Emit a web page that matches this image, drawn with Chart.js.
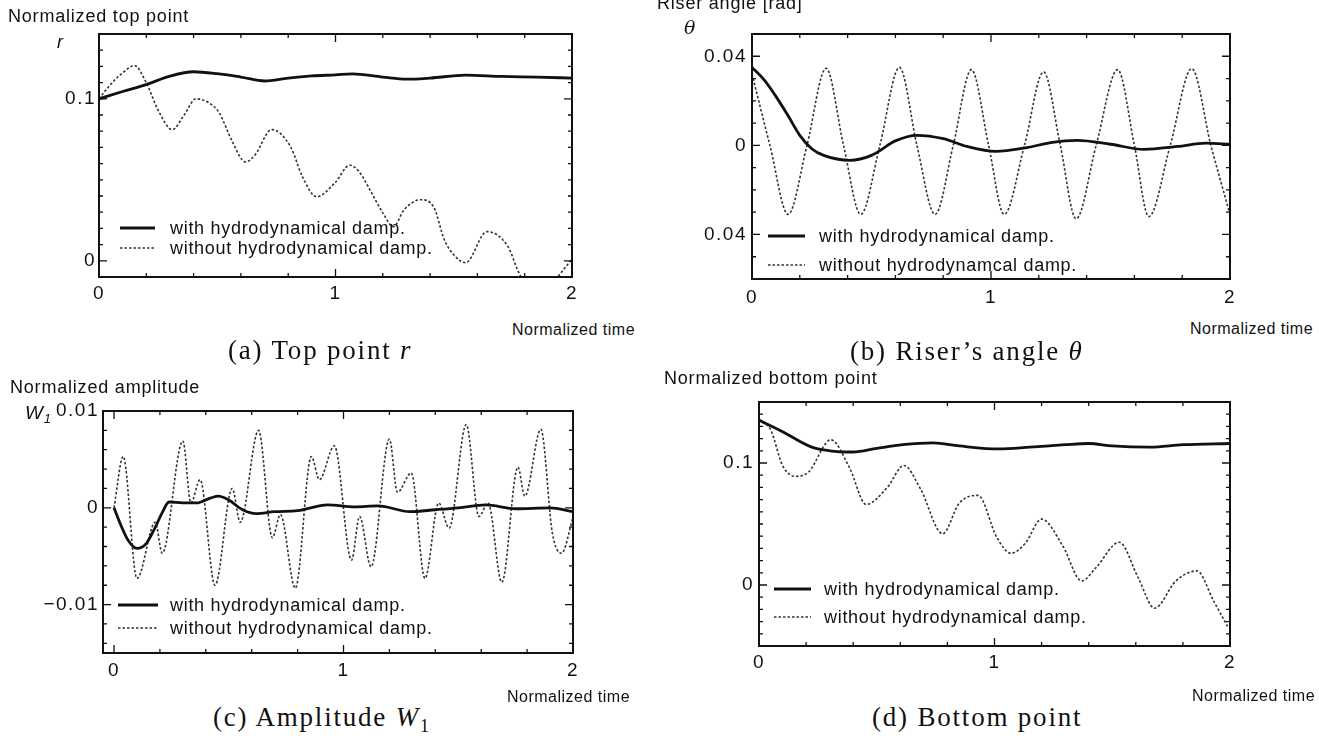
<!DOCTYPE html>
<html>
<head>
<meta charset="utf-8">
<script src="https://cdn.jsdelivr.net/npm/chart.js@4.4.0/dist/chart.umd.min.js"></script>
<style>
  body { margin: 0; background: #fff; }
  #page { position: relative; width: 1319px; height: 736px; overflow: hidden; background: #fff; }
  canvas { position: absolute; }
  .t { position: absolute; white-space: nowrap; line-height: 1; color: #111;
       font-family: 'Liberation Sans', Arial, sans-serif; font-size: 18px; letter-spacing: 0.8px; }
  .nt { font-size: 16px; letter-spacing: 0.5px; }
  .cap { position: absolute; white-space: nowrap; line-height: 1; color: #111;
         font-family: 'Liberation Serif', 'Times New Roman', serif; font-size: 27px; letter-spacing: 1.8px; }
</style>
</head>
<body>
<div id="page">
  <canvas id="ca" width="640" height="320" style="left:0;top:0"></canvas>
  <canvas id="cb" width="620" height="320" style="left:660px;top:0"></canvas>
  <canvas id="cc" width="640" height="330" style="left:0;top:360px"></canvas>
  <canvas id="cd" width="620" height="330" style="left:660px;top:360px"></canvas>

  <div class="t" style="left:8px;top:7px">Normalized top point</div>
  <div class="t" style="left:57px;top:33px;font-style:italic">r</div>
  <div class="t nt" style="left:512px;top:322px">Normalized time</div>
  <div class="cap" style="left:228px;top:337px">(a) Top point <i>r</i></div>

  <div class="t" style="left:657px;top:-6px">Riser angle [rad]</div>
  <div class="t" style="left:684px;top:18px;font-size:19px;font-style:italic;font-family:'DejaVu Serif',serif">θ</div>
  <div class="t nt" style="left:1190px;top:321px">Normalized time</div>
  <div class="cap" style="left:850px;top:338px">(b) Riser’s angle <i>θ</i></div>

  <div class="t" style="left:10px;top:378px">Normalized amplitude</div>
  <div class="t" style="left:25px;top:403px;font-size:19px;font-style:italic">W<span style="position:relative;top:4px;font-size:13px">1</span></div>
  <div class="t nt" style="left:507px;top:689px">Normalized time</div>
  <div class="cap" style="left:213px;top:704px">(c) Amplitude <i>W</i><sub style="font-size:18px">1</sub></div>

  <div class="t" style="left:664px;top:369px">Normalized bottom point</div>
  <div class="t nt" style="left:1192px;top:688px">Normalized time</div>
  <div class="cap" style="left:872px;top:704px">(d) Bottom point</div>
</div>
<script>
// (a) top point r
const tA_with = [0, 0.1, 0.2, 0.3, 0.4, 0.5, 0.6, 0.7, 0.8, 0.9, 1.0, 1.07, 1.2, 1.3, 1.4, 1.55, 1.7, 1.85, 2.0];
const rA_with = [0.100, 0.1045, 0.1088, 0.1140, 0.1167, 0.1155, 0.1134, 0.1110, 0.1128, 0.1141, 0.1148, 0.1154, 0.1134, 0.1121, 0.1128, 0.1146, 0.1138, 0.1134, 0.1128];
const tA_without = [0, 0.05, 0.1, 0.15, 0.2, 0.25, 0.31, 0.36, 0.41, 0.48, 0.51, 0.56, 0.62, 0.66, 0.73, 0.81, 0.86, 0.92, 0.997, 1.06, 1.1, 1.15, 1.2, 1.245, 1.29, 1.36, 1.415, 1.46, 1.5, 1.55, 1.64, 1.73, 1.77, 1.8, 1.86, 1.92, 1.95, 2.0];
const rA_without = [0.100, 0.109, 0.116, 0.1205, 0.1099, 0.093, 0.081, 0.090, 0.100, 0.096, 0.091, 0.0747, 0.061, 0.0654, 0.081, 0.0704, 0.052, 0.0395, 0.048, 0.059, 0.055, 0.0426, 0.0296, 0.021, 0.0315, 0.0377, 0.0333, 0.013, 0.0037, -0.0012, 0.018, 0.0086, -0.0056, -0.014, -0.02, -0.014, -0.008, 0.001];

// (b) riser angle theta
const tB_with = [0, 0.05, 0.1, 0.15, 0.2, 0.25, 0.3, 0.41, 0.5, 0.6, 0.69, 0.8, 0.9, 1.02, 1.15, 1.25, 1.36, 1.5, 1.64, 1.78, 1.9, 2.0];
const thB_with = [0.035, 0.0295, 0.022, 0.0135, 0.0045, -0.0015, -0.0045, -0.0067, -0.0045, 0.002, 0.0045, 0.003, -0.0005, -0.0027, -0.001, 0.0012, 0.0022, 0.0005, -0.0018, -0.0005, 0.001, 0.0005];
const tB_without = [0, 0.075, 0.151, 0.23, 0.31, 0.383, 0.455, 0.535, 0.617, 0.69, 0.766, 0.842, 0.918, 0.99, 1.055, 1.14, 1.22, 1.29, 1.356, 1.44, 1.53, 1.6, 1.66, 1.75, 1.84, 1.92, 2.0];
const thB_without = [0.032, 0.0, -0.031, 0.0, 0.0346, 0.0, -0.031, 0.0, 0.035, 0.0, -0.031, 0.0, 0.034, 0.0, -0.031, 0.0, 0.033, 0.0, -0.033, 0.0, 0.034, 0.0, -0.032, 0.0, 0.0345, 0.0, -0.031];

// (c) amplitude W1
const tC_with = [0, 0.03, 0.06, 0.1, 0.14, 0.18, 0.21, 0.24, 0.3, 0.36, 0.42, 0.455, 0.5, 0.56, 0.62, 0.7, 0.8, 0.93, 1.05, 1.15, 1.29, 1.4, 1.5, 1.62, 1.75, 1.9, 2.0];
const wC_with = [0, -0.0018, -0.0033, -0.0042, -0.0037, -0.002, -0.0005, 0.0006, 0.0005, 0.0005, 0.0010, 0.0012, 0.0008, -0.0002, -0.0006, -0.0004, -0.0003, 0.0003, 0.0001, 0.0002, -0.0004, -0.0002, 0.0, 0.0003, -0.0001, 0.0, -0.0004];
const tC_without = [0, 0.04, 0.10, 0.18, 0.21, 0.30, 0.335, 0.375, 0.44, 0.515, 0.55, 0.63, 0.69, 0.725, 0.79, 0.86, 0.895, 0.96, 1.035, 1.07, 1.12, 1.2, 1.235, 1.295, 1.355, 1.415, 1.46, 1.535, 1.59, 1.63, 1.69, 1.76, 1.79, 1.86, 1.91, 1.95, 2.0];
const wC_without = [0, 0.0053, -0.0073, -0.0015, -0.0047, 0.0069, 0.0005, 0.0029, -0.008, 0.002, -0.0015, 0.008, -0.0031, -0.0007, -0.0083, 0.0053, 0.0029, 0.0064, -0.0054, -0.0009, -0.0061, 0.0071, 0.0016, 0.0036, -0.0073, 0.0005, -0.0021, 0.0086, -0.0009, 0.0005, -0.0077, 0.0042, 0.0012, 0.0081, -0.0026, -0.0047, -0.001];

// (d) bottom point
const tD_with = [0, 0.1, 0.224, 0.3, 0.4, 0.5, 0.61, 0.74, 0.85, 1.02, 1.15, 1.3, 1.4, 1.5, 1.66, 1.8, 2.0];
const bD_with = [0.135, 0.1256, 0.113, 0.110, 0.109, 0.112, 0.115, 0.1165, 0.114, 0.1115, 0.113, 0.115, 0.116, 0.114, 0.113, 0.115, 0.116];
const tD_without = [0, 0.05, 0.1, 0.155, 0.21, 0.305, 0.385, 0.455, 0.545, 0.615, 0.685, 0.78, 0.85, 0.93, 1.01, 1.07, 1.13, 1.2, 1.29, 1.37, 1.43, 1.53, 1.61, 1.68, 1.77, 1.86, 1.93, 1.99];
const bD_without = [0.136, 0.127, 0.098, 0.089, 0.0925, 0.119, 0.0958, 0.066, 0.080, 0.098, 0.079, 0.042, 0.067, 0.0735, 0.039, 0.026, 0.034, 0.054, 0.032, 0.0033, 0.014, 0.035, 0.006, -0.019, 0.0033, 0.0116, -0.013, -0.034];

const xTicks = [0, 1, 2];
const yTicksA = [0, 0.1];
const yTicksB = [-0.04, 0, 0.04];
const yTicksC = [-0.01, 0, 0.01];
const yTicksD = [0, 0.1];

const withLabel = "with hydrodynamical damp.";
const withoutLabel = "without hydrodynamical damp.";
const withoutLabelB = "without hydrodynamcal damp.";

const sans = "'Liberation Sans', Arial, sans-serif";

const pts = (ts, vs) => ts.map((t, i) => ({x: t, y: vs[i]}));

// the scanned lettering is a little wide
const wideText = {
    id: 'wideText',
    beforeDraw(chart) {
        chart.ctx.letterSpacing = '1.5px';
    }
};

// inward ticks on all four sides plus the frame
const frameTicks = {
    id: 'frameTicks',
    afterDatasetsDraw(chart, args, opts) {
        const ctx = chart.ctx;
        const a = chart.chartArea;
        const x = chart.scales.x, y = chart.scales.y;
        const isMajor = (v, list) => list.some(m => Math.abs(m - v) < 1e-9);
        ctx.save();
        ctx.strokeStyle = '#111';
        ctx.lineWidth = 1.3;
        ctx.beginPath();
        for (let k = Math.ceil(x.min / opts.xMinor - 1e-9); k * opts.xMinor <= x.max + 1e-9; k++) {
            const v = k * opts.xMinor;
            const len = isMajor(v, xTicks) ? 8 : 4;
            const px = x.getPixelForValue(v);
            ctx.moveTo(px, a.bottom); ctx.lineTo(px, a.bottom - len);
            ctx.moveTo(px, a.top); ctx.lineTo(px, a.top + len);
        }
        for (let k = Math.ceil(y.min / opts.yMinor - 1e-9); k * opts.yMinor <= y.max + 1e-9; k++) {
            const v = k * opts.yMinor;
            const len = isMajor(v, opts.yMajor) ? 8 : 4;
            const py = y.getPixelForValue(v);
            ctx.moveTo(a.left, py); ctx.lineTo(a.left + len, py);
            ctx.moveTo(a.right, py); ctx.lineTo(a.right - len, py);
        }
        ctx.stroke();
        ctx.lineWidth = 2;
        ctx.strokeRect(a.left, a.top, a.right - a.left, a.bottom - a.top);
        ctx.restore();
    }
};

// legend rows drawn inside the plot; y is the row centre in page pixels
const insideLegend = {
    id: 'insideLegend',
    afterDraw(chart, args, opts) {
        const ctx = chart.ctx;
        const a = chart.chartArea;
        ctx.save();
        ctx.font = '18px ' + sans;
        ctx.letterSpacing = '0.7px';
        ctx.textBaseline = 'middle';
        ctx.fillStyle = '#111';
        chart.data.datasets.forEach((ds, i) => {
            const yy = opts.y + i * opts.gap - chart.canvas.offsetTop;
            const x0 = a.left + opts.x;
            ctx.strokeStyle = ds.borderColor;
            ctx.lineWidth = ds.borderWidth;
            ctx.setLineDash(ds.borderDash || []);
            ctx.beginPath();
            ctx.moveTo(x0, yy);
            ctx.lineTo(x0 + opts.len, yy);
            ctx.stroke();
            ctx.setLineDash([]);
            ctx.fillText(ds.label, x0 + opts.len + opts.textGap, yy + 1);
        });
        ctx.restore();
    }
};

const draw_panel = (id, cfg) => {
    const ctx = document.getElementById(id);
    return new Chart(ctx, {
        type: 'line',
        data: {
            datasets: [{
                label: withLabel,
                data: pts(cfg.tWith, cfg.vWith),
                borderColor: '#111',
                borderWidth: 2.8,
                cubicInterpolationMode: 'monotone',
                pointRadius: 0
            }, {
                label: cfg.withoutLabel || withoutLabel,
                data: pts(cfg.tWithout, cfg.vWithout),
                borderColor: '#333',
                borderWidth: 1.6,
                borderDash: [2.5, 2],
                cubicInterpolationMode: 'monotone',
                pointRadius: 0
            }]
        },
        options: {
            responsive: false,
            animation: false,
            devicePixelRatio: 1,
            layout: { padding: cfg.padding },
            scales: {
                x: {
                    type: 'linear',
                    min: cfg.xMin,
                    max: 2,
                    afterBuildTicks: s => { s.ticks = xTicks.map(v => ({value: v})); },
                    afterFit: s => { s.height = cfg.xHeight; },
                    grid: { display: false, drawTicks: false },
                    border: { display: false },
                    ticks: {
                        padding: cfg.xPad,
                        color: '#111',
                        maxRotation: 0,
                        font: { family: sans, size: 19 },
                        callback: v => String(v)
                    }
                },
                y: {
                    type: 'linear',
                    min: cfg.yMin,
                    max: cfg.yMax,
                    afterBuildTicks: s => { s.ticks = cfg.yTicks.map(v => ({value: v})); },
                    afterFit: s => { s.width = cfg.yWidth; },
                    grid: { display: false, drawTicks: false },
                    border: { display: false },
                    ticks: {
                        padding: cfg.yPad,
                        color: '#111',
                        font: { family: sans, size: 19 },
                        callback: cfg.yFmt
                    }
                }
            },
            plugins: {
                legend: { display: false },
                tooltip: { enabled: false },
                frameTicks: { xMinor: 0.2, yMinor: cfg.yMinor, yMajor: cfg.yTicks },
                insideLegend: cfg.legend
            }
        },
        plugins: [wideText, frameTicks, insideLegend]
    });
};

draw_panel('ca', {
    tWith: tA_with, vWith: rA_with, tWithout: tA_without, vWithout: rA_without,
    xMin: 0, yMin: -0.01, yMax: 0.14, yTicks: yTicksA, yMinor: 0.01,
    yFmt: v => v === 0 ? '0' : v.toFixed(1),
    padding: { left: 0, top: 34, right: 68, bottom: 0 }, yWidth: 99, xHeight: 43, xPad: 5, yPad: 3,
    legend: { x: 21, y: 228, gap: 20, len: 35, textGap: 15 }
});

draw_panel('cb', {
    tWith: tB_with, vWith: thB_with, tWithout: tB_without, vWithout: thB_without,
    withoutLabel: withoutLabelB,
    xMin: 0, yMin: -0.06, yMax: 0.05, yTicks: yTicksB, yMinor: 0.01,
    yFmt: v => v === 0 ? '0' : Math.abs(v).toFixed(2),
    padding: { left: 0, top: 34, right: 50, bottom: 0 }, yWidth: 92, xHeight: 41, xPad: 7, yPad: 5,
    legend: { x: 16, y: 236, gap: 29, len: 37, textGap: 14 }
});

draw_panel('cc', {
    tWith: tC_with, vWith: wC_with, tWithout: tC_without, vWithout: wC_without,
    xMin: -0.048, yMin: -0.015, yMax: 0.01, yTicks: yTicksC, yMinor: 0.002,
    yFmt: v => v === 0 ? '0' : (v < 0 ? '\u2212' + Math.abs(v).toFixed(2) : v.toFixed(2)),
    padding: { left: 0, top: 51, right: 67, bottom: 0 }, yWidth: 103, xHeight: 37, xPad: 6, yPad: 4,
    legend: { x: 15, y: 605, gap: 23, len: 40, textGap: 12 }
});

draw_panel('cd', {
    tWith: tD_with, vWith: bD_with, tWithout: tD_without, vWithout: bD_without,
    xMin: 0, yMin: -0.05, yMax: 0.15, yTicks: yTicksD, yMinor: 0.01,
    yFmt: v => v === 0 ? '0' : v.toFixed(1),
    padding: { left: 0, top: 42, right: 50, bottom: 0 }, yWidth: 99, xHeight: 44, xPad: 5, yPad: 5,
    legend: { x: 15, y: 589, gap: 28, len: 37, textGap: 13 }
});
</script>
</body>
</html>
